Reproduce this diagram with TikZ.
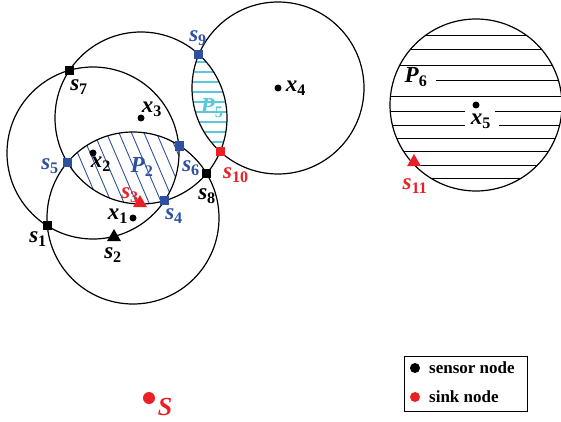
\documentclass[tikz,border=0pt]{standalone}
\usepackage{fontspec}
\setmainfont{Liberation Serif}
\usetikzlibrary{shapes.geometric}
\definecolor{myblue}{RGB}{46,80,160}
\definecolor{myred}{RGB}{235,32,38}
\definecolor{mycyan}{RGB}{90,200,220}
\newcommand\lbl[2]{\textbf{\textit{#1}}\textsubscript{\textbf{#2}}}
\begin{document}
\begin{tikzpicture}[x=1pt,y=-1pt,
  font=\fontsize{23}{25}\selectfont,
  circ/.style={line width=1.2pt},
  sq/.style={rectangle, fill, minimum size=9pt, inner sep=0pt},
  tri/.style={regular polygon, regular polygon sides=3, fill, minimum size=16pt, inner sep=0pt},
  dotn/.style={circle, fill, minimum size=7pt, inner sep=0pt},
  lab/.style={inner sep=0pt},
  hatchB/.style={draw=myblue, line width=0.9pt},
  hatchC/.style={draw=mycyan, line width=1.2pt},
  hatchK/.style={draw=black, line width=0.9pt}]
\useasboundingbox (0,0) rectangle (561,422);
\coordinate (X1) at (133,218);
\coordinate (X2) at (93,153);
\coordinate (X3) at (141,118);
\coordinate (X4) at (278,88);
\coordinate (X5) at (476,105);
% hatching P2
\begin{scope}
\clip (X1) circle[radius=86pt];
\clip (X2) circle[radius=86pt];
\clip (X3) circle[radius=86pt];
\foreach \i in {0,...,15} \draw[hatchB] ({26+\i*12.5},120) -- ({26+\i*12.5+45},225);
\end{scope}
% hatching P5
\begin{scope}
\clip (X3) circle[radius=86pt];
\clip (X4) circle[radius=86pt];
\foreach \i in {0,...,9} \draw[hatchC] (180,{62+\i*10}) -- (240,{62+\i*10});
\end{scope}
% hatching P6
\begin{scope}
\clip (X5) circle[radius=86pt];
\foreach \yy in {35,49.5,65,80,96.5,111,125,138,151,165,178} {
  \ifdim\yy pt=80pt
    \draw[hatchK] (436,\yy) -- (570,\yy);
  \else\ifdim\yy pt=111pt
    \draw[hatchK] (380,\yy) -- (465,\yy) (495,\yy) -- (570,\yy);
  \else\ifdim\yy pt=125pt
    \draw[hatchK] (380,\yy) -- (465,\yy) (499,\yy) -- (570,\yy);
  \else
    \draw[hatchK] (380,\yy) -- (570,\yy);
  \fi\fi\fi
}
\end{scope}
% circles
\foreach \c in {X1,X2,X3,X4,X5} \draw[circ] (\c) circle[radius=86pt];
% centre dots
\node[dotn] (x1) at (X1) {};
\node[dotn] (x2) at (X2) {};
\node[dotn] (x3) at (X3) {};
\node[dotn] (x4) at (X4) {};
\node[dotn] (x5) at (X5) {};
% labels
\node[lab] (lx1) at (118,216) {\lbl{x}{1}};
\node[lab] (lx2) at (101,164) {\lbl{x}{2}};
\node[lab] (lx3) at (152,109) {\lbl{x}{3}};
\node[lab] (lx4) at (296,88) {\lbl{x}{4}};
\node[lab] (lx5) at (481,121) {\lbl{x}{5}};
\node[lab,myblue] (lp2) at (142,167) {\lbl{P}{2}};
\node[lab,mycyan] (lp5) at (212,108) {\lbl{P}{5}};
\node[lab] (lp6) at (416,77) {\lbl{P}{6}};
\node[lab] (l7) at (79,87) {\lbl{s}{7}};
\node[lab,myblue] (l9) at (198,38) {\lbl{s}{9}};
\node[lab,myblue] (l5) at (50,166) {\lbl{s}{5}};
\node[lab,myblue] (l6) at (191,168) {\lbl{s}{6}};
\node[lab,myred] (l10) at (236,175) {\lbl{s}{10}};
\node[lab] (l8) at (207,196) {\lbl{s}{8}};
\node[lab,myred] (l3) at (130,195) {\lbl{s}{3}};
\node[lab,myblue] (l4) at (174,216) {\lbl{s}{4}};
\node[lab] (l1) at (38,239) {\lbl{s}{1}};
\node[lab] (l2) at (113,255) {\lbl{s}{2}};
\node[lab,myred] (l11) at (415,186) {\lbl{s}{11}};
% sensor squares
\node[sq] (s7) at (69.5,70.3) {};
\node[sq,myblue] (s9) at (198.8,54.3) {};
\node[sq,myblue] (s5) at (67,162) {};
\node[sq,myblue] (s6) at (179,146) {};
\node[sq,myblue] (s4) at (164.5,200.7) {};
\node[sq] (s8) at (206,173.5) {};
\node[sq] (s1) at (47,225.5) {};
\node[sq,myred] (s10) at (220.5,151.5) {};
% triangles
\node[tri] (s2) at (114,237) {};
\node[tri,myred] (s3) at (140,203) {};
\node[tri,myred] (s11) at (414,162) {};
% sink
\node[dotn,myred,minimum size=12pt] (S) at (149,398) {};
\node[lab,myred,font=\fontsize{26}{28}\selectfont] (lS) at (165,407) {\textbf{\textit{S}}};
% legend
\node[draw, line width=0.6pt, minimum width=123pt, minimum height=55pt, inner sep=0pt] (leg) at (465.5,383.5) {};
\node[dotn,minimum size=10pt] (lg1) at (415,368) {};
\node[dotn,myred,minimum size=10pt] (lg2) at (415,397) {};
\node[lab,anchor=west,font=\fontsize{17}{19}\selectfont\bfseries] (lt1) at (429,368) {sensor node};
\node[lab,anchor=west,font=\fontsize{17}{19}\selectfont\bfseries] (lt2) at (429,397) {sink node};
\end{tikzpicture}
\end{document}
